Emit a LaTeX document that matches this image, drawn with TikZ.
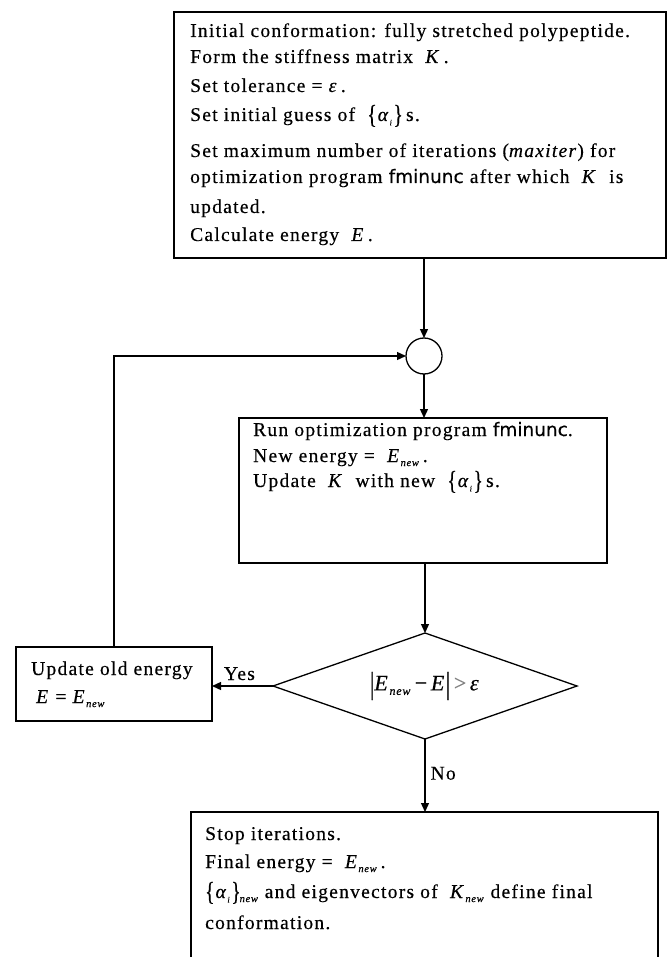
\documentclass[tikz,border=0pt]{standalone}
\usepackage{fontspec}
\setmainfont{Liberation Serif}[LetterSpace=6.5,FakeBold=0.4]
\newfontfamily\fmfont{DejaVu Sans}[FakeBold=0.3]
\usetikzlibrary{arrows.meta,shapes.geometric}
\newcommand\Enew{\textit{E}\kern0.3pt\raisebox{-0.45ex}{\fontsize{10.5}{10}\selectfont\textit{new}}}
\newcommand\Knew{\textit{K}\kern0.3pt\raisebox{-0.45ex}{\fontsize{10.5}{10}\selectfont\textit{new}}}
\newcommand\Ai{\raisebox{-0.25ex}{\scalebox{1}[1.35]{\{}}\kern1pt\textit{α}\raisebox{-0.5ex}{\fontsize{8.5}{8}\selectfont\textit{i}}\kern1pt\raisebox{-0.25ex}{\scalebox{1}[1.35]{\}}}}
\newcommand\fmu{{\fmfont\fontsize{18.5}{17}\selectfont fminunc}}
\newcommand\tbar{\raisebox{-0.3ex}{\scalebox{1}[1.4]{|}}}
\begin{document}
\begin{tikzpicture}[x=1pt,y=-1pt,
  box/.style={draw,line width=1.3pt,rectangle,inner sep=0pt,outer sep=0pt},
  txt/.style={anchor=base west,inner sep=0pt,font=\fontsize{19.5}{21}\selectfont},
  arr/.style={line width=1.3pt,-{Triangle[length=9pt,width=8pt]}},
  ln/.style={line width=1.3pt}]
\useasboundingbox (0,0) rectangle (667,957);
\fill[white] (0,0) rectangle (667,957);
% boxes
\node[box,minimum width=492pt,minimum height=246pt] (top) at (420,135) {};
\node[circle,draw,line width=1.3pt,minimum size=36pt,inner sep=0pt,outer sep=0pt] (circ) at (424,356) {};
\node[box,minimum width=368pt,minimum height=145pt] (mid) at (423,490.5) {};
\node[diamond,draw,line width=1.3pt,shape aspect=2.87,minimum width=304pt,minimum height=106pt,inner sep=0pt,outer sep=0pt,font=\fontsize{22}{22}\selectfont] (dia) at (425,686) {\tbar\textit{E}\kern0.3pt\raisebox{-0.45ex}{\fontsize{12}{12}\selectfont\textit{new}}\,−\,\textit{E}\tbar\,\textcolor{gray}{>}\,\textit{ε}};
\node[box,minimum width=196pt,minimum height=74pt] (upd) at (114,684) {};
\node[box,minimum width=467pt,minimum height=190pt] (bot) at (424.5,907) {};
% top text
\node[txt] (t1) at (190,37) {Initial conformation: fully stretched polypeptide.};
\node[txt] (t2) at (190,63) {Form the stiffness matrix \ \textit{K}\,.};
\node[txt] (t3) at (190,92) {Set tolerance = \textit{ε}\,.};
\node[txt] (t4) at (190,121) {Set initial guess of \ \Ai\,s.};
\node[txt] (t5) at (190,157) {Set maximum number of iterations (\textit{maxiter}) for};
\node[txt] (t6) at (190,183) {optimization program \fmu\ after which \ \textit{K} \ is};
\node[txt] (t7) at (190,213) {updated.};
\node[txt] (t8) at (190,241) {Calculate energy \ \textit{E}\,.};
% middle text
\node[txt] (m1) at (253,436) {Run optimization program \fmu.};
\node[txt] (m2) at (253,462) {New energy = \ \Enew\,.};
\node[txt] (m3) at (253,487) {Update \ \textit{K} \ with new \ \Ai\,s.};
% update text
\node[txt] (u1) at (31,675) {Update old energy};
\node[txt] (u2) at (36,703) {\textit{E} = \Enew};
% bottom text
\node[txt] (b1) at (205,840) {Stop iterations.};
\node[txt] (b2) at (205,868) {Final energy = \ \Enew\,.};
\node[txt] (b3) at (205,898) {\Ai\kern-1pt\raisebox{-0.45ex}{\fontsize{10.5}{10}\selectfont\textit{new}} and eigenvectors of \ \Knew\ define final};
\node[txt] (b4) at (205,929) {conformation.};
% connectors
\draw[arr] (circ.north |- top.south) -- (circ.north);
\draw[arr] (circ.south) -- (circ.south |- mid.north);
\draw[arr] (upd.north) |- (circ.west);
\draw[arr] (dia.north |- mid.south) -- (dia.north);
\draw[arr] (dia.west) -- (dia.west -| upd.east) node[pos=0.55,above=6pt,txt,anchor=base] (yes) {Yes};
\draw[arr] (dia.south) -- (dia.south |- bot.north) node[pos=0.47,right=5pt,txt,anchor=west] (no) {No};
\end{tikzpicture}
\end{document}
